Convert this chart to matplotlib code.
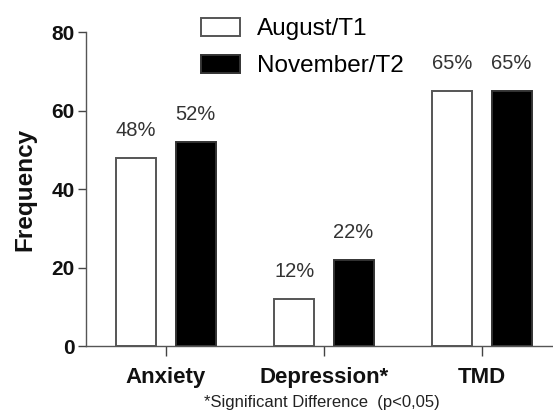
import numpy as np
import matplotlib
matplotlib.use("Agg")
import matplotlib.pyplot as plt

plt.rcParams['font.family'] = ['Liberation Sans', 'DejaVu Sans']

# data
categories = ['Anxiety', 'Depression*', 'TMD']
august_t1 = [48, 12, 65]
november_t2 = [52, 22, 65]
series_labels = ['August/T1', 'November/T2']

fig = plt.figure(figsize=(5.53, 4.11), dpi=100)
ax = fig.add_axes([0.1555, 0.158, 0.8445, 0.764])

x = np.arange(len(categories))
w = 0.253
off = 0.188
ax.bar(x - off, august_t1, w, color='white', edgecolor='#555555', linewidth=1.4, label=series_labels[0])
ax.bar(x + off, november_t2, w, color='black', edgecolor='#333333', linewidth=1.4, label=series_labels[1])

for xs, vals in [(x - off, august_t1), (x + off, november_t2)]:
    for xi, v in zip(xs, vals):
        ax.text(xi, v + 7, f'{v}%', ha='center', va='center', fontsize=14.5, color='#333333')

ax.set_xlim(-0.506, 2.45)
ax.set_ylim(0, 80)
ax.set_yticks([0, 20, 40, 60, 80])
ax.set_xticks(x)
ax.set_xticklabels(categories, fontsize=16, fontweight='bold', color='#111111')
ax.tick_params(axis='y', labelsize=15, length=6, width=1, colors='#444444', labelcolor='#111111', pad=2)
for lab in ax.get_yticklabels():
    lab.set_fontweight('bold')
ax.tick_params(axis='x', length=7, width=1, colors='#444444', labelcolor='#111111', pad=8)
ax.set_ylabel('Frequency', fontsize=17.5, fontweight='bold', color='#111111', labelpad=11)

for s in ['top', 'right']:
    ax.spines[s].set_visible(False)
for s in ['left', 'bottom']:
    ax.spines[s].set_color('#555555')
    ax.spines[s].set_linewidth(1.0)

ax.legend(loc='upper left', bbox_to_anchor=(201 / 553, 1 - 18 / 411), bbox_transform=fig.transFigure,
          frameon=False, fontsize=17.5, borderpad=0, borderaxespad=0,
          handlelength=1.6, handleheight=0.75, handletextpad=0.7, labelspacing=0.6)

fig.text(322 / 553, 1 - 402 / 411, '*Significant Difference  (p<0,05)', ha='center', va='center',
         fontsize=12, color='#222222')

fig.savefig('out.png', dpi=100)
